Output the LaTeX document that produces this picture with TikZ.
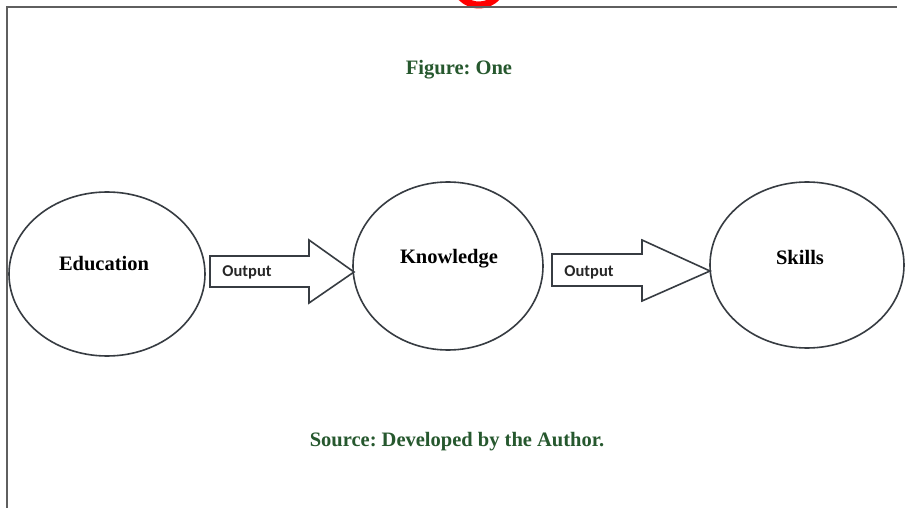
\documentclass[tikz,border=0pt]{standalone}
\usepackage{fontspec}
\setmainfont{Liberation Serif}
\newfontfamily\outfont{Carlito}
\usetikzlibrary{shapes.geometric}
\definecolor{capgreen}{RGB}{38,88,46}
\definecolor{linegray}{RGB}{55,60,66}
\definecolor{framegray}{RGB}{95,95,95}
\tikzset{
  bubble/.style={ellipse, draw=linegray, line width=1.6pt, inner sep=0pt},
  bubtext/.style={font=\fontsize{20.5}{24}\selectfont\bfseries, text=black, inner sep=0pt},
  caption/.style={font=\fontsize{20.5}{24}\selectfont\bfseries, text=capgreen, inner sep=0pt},
  blockarrow/.style={draw=linegray, line width=1.6pt, fill=white, line join=miter},
  arrowtext/.style={font=\outfont\fontsize{16.5}{20}\selectfont\bfseries, text=black!85, inner sep=0pt}
}
\frenchspacing
\begin{document}
\begin{tikzpicture}[x=1pt,y=-1pt]
\useasboundingbox (0,0) rectangle (906,508);
\clip (0,0) rectangle (906,508);
\fill[white] (0,0) rectangle (906,508);
% red fragment at top
\draw[red, line width=7pt] (479,-20) ++(20:25) arc[start angle=20, end angle=160, radius=25];
% frame
\draw[framegray, line width=1.6pt] (7,508) -- (7,7) -- (897,7);
% captions
\node[caption] (fig) at (459,70) {Figure: One};
\node[caption] (src) at (457,442) {Source: Developed by the Author.};
% ellipses
\node[bubble, minimum width=196pt, minimum height=164pt] (edu) at (107,274) {};
\node[bubble, minimum width=190pt, minimum height=168pt] (kn) at (448,266) {};
\node[bubble, minimum width=194pt, minimum height=166pt] (sk) at (807,265) {};
\node[bubtext] (edut) at (104,264) {Education};
\node[bubtext] (knt) at (449,259) {Knowledge};
\node[bubtext] (skt) at (800,257) {Skills};
% block arrows
\draw[blockarrow] (210,256) -- (309,256) -- (309,240) -- (354,272) -- (309,303) -- (309,287) -- (210,287) -- cycle;
\draw[blockarrow] (552,254) -- (642,254) -- (642,240) -- (710,271) -- (642,301) -- (642,286) -- (552,286) -- cycle;
\node[arrowtext] (o1) at (247,272) {Output};
\node[arrowtext] (o2) at (589,272) {Output};
\end{tikzpicture}
\end{document}
